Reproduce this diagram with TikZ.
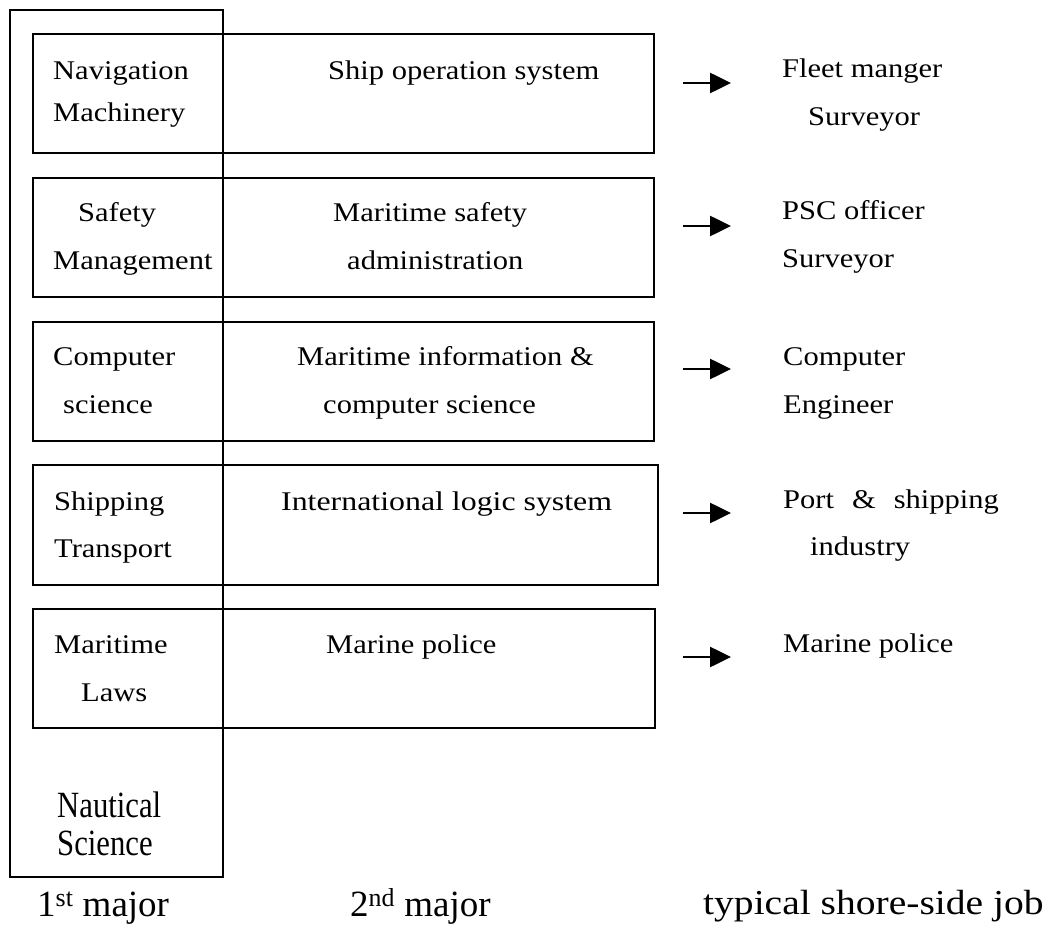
\documentclass[tikz,border=0pt]{standalone}
\usepackage{fontspec}
\setmainfont{Liberation Serif}
\newfontfamily\boxfont{Liberation Serif}[FakeStretch=1.13]
\newfontfamily\widefont{Liberation Serif}[FakeStretch=1.18]
\newfontfamily\condfont{Liberation Serif}[FakeStretch=0.83]
\usetikzlibrary{arrows.meta}
\begin{document}
\begin{tikzpicture}[x=1pt,y=-1pt,
  rowbox/.style={draw, line width=1.6pt, inner sep=0pt, outer sep=0pt},
  outerbox/.style={draw, line width=1.2pt, inner sep=0pt, outer sep=0pt},
  txt/.style={inner sep=0pt, anchor=base west, font=\boxfont\fontsize{27}{32}\selectfont},
  cond/.style={inner sep=0pt, anchor=base west, font=\condfont\fontsize{37}{44}\selectfont},
  lbl/.style={inner sep=0pt, anchor=base west, font=\fontsize{37}{44}\selectfont},
  jobarrow/.style={line width=2.6pt, -{Triangle[length=21pt,width=20pt]}}]
\useasboundingbox (0,0) rectangle (1047,925);
% outer box: 1st major
\node[outerbox, minimum width=213pt, minimum height=867pt] (outer) at (116.5,443.5) {};
% rows
\node[rowbox, minimum width=621pt, minimum height=119pt] (r1) at (343.5,93.5) {};
\node[rowbox, minimum width=621pt, minimum height=119pt] (r2) at (343.5,237.5) {};
\node[rowbox, minimum width=621pt, minimum height=119pt] (r3) at (343.5,381.5) {};
\node[rowbox, minimum width=625pt, minimum height=120pt] (r4) at (345.5,525) {};
\node[rowbox, minimum width=622pt, minimum height=119pt] (r5) at (344,668.5) {};
% first-column texts
\node[txt] (t1a) at (53,80) {Navigation};
\node[txt] (t1b) at (53,122) {Machinery};
\node[txt] (t2a) at (78,222) {Safety};
\node[txt] (t2b) at (53,270) {Management};
\node[txt] (t3a) at (53,365) {Computer};
\node[txt] (t3b) at (63,413) {science};
\node[txt] (t4a) at (54,510) {Shipping};
\node[txt] (t4b) at (54,557) {Transport};
\node[txt] (t5a) at (54,653) {Maritime};
\node[txt] (t5b) at (81,701) {Laws};
% second-column texts
\node[txt] (s1) at (328,80) {Ship operation system};
\node[txt] (s2a) at (333,222) {Maritime safety};
\node[txt] (s2b) at (347,270) {administration};
\node[txt] (s3a) at (297,365) {Maritime information \&};
\node[txt] (s3b) at (323,413) {computer science};
\node[txt, font=\widefont\fontsize{27}{32}\selectfont] (s4) at (281,510) {International logic system};
\node[txt] (s5) at (326,653) {Marine police};
% jobs
\node[txt] (j1a) at (782,78) {Fleet manger};
\node[txt] (j1b) at (808,126) {Surveyor};
\node[txt] (j2a) at (782,220) {PSC officer};
\node[txt] (j2b) at (782,268) {Surveyor};
\node[txt] (j3a) at (783,365) {Computer};
\node[txt] (j3b) at (783,413) {Engineer};
\node[txt] (j4a) at (783,508) {Port\hspace{18pt}\&\hspace{18pt}shipping};
\node[txt] (j4b) at (810,555) {industry};
\node[txt] (j5) at (783,652) {Marine police};
% arrows
\coordinate (a1s) at (683,83);  \coordinate (a1e) at (731,83);
\coordinate (a2s) at (683,226); \coordinate (a2e) at (731,226);
\coordinate (a3s) at (683,369); \coordinate (a3e) at (731,369);
\coordinate (a4s) at (683,513); \coordinate (a4e) at (731,513);
\coordinate (a5s) at (683,657); \coordinate (a5e) at (731,657);
\draw[jobarrow] (a1s) -- (a1e);
\draw[jobarrow] (a2s) -- (a2e);
\draw[jobarrow] (a3s) -- (a3e);
\draw[jobarrow] (a4s) -- (a4e);
\draw[jobarrow] (a5s) -- (a5e);
% Nautical Science
\node[cond] (n1) at (57,817) {Nautical};
\node[cond] (n2) at (57,855) {Science};
% bottom labels
\node[lbl] (l1) at (37,916) {1\textsuperscript{st} major};
\node[lbl] (l2) at (350,916) {2\textsuperscript{nd} major};
\node[txt, font=\boxfont\fontsize{35}{40}\selectfont] (l3) at (703,914) {typical shore-side job};
\end{tikzpicture}
\end{document}
